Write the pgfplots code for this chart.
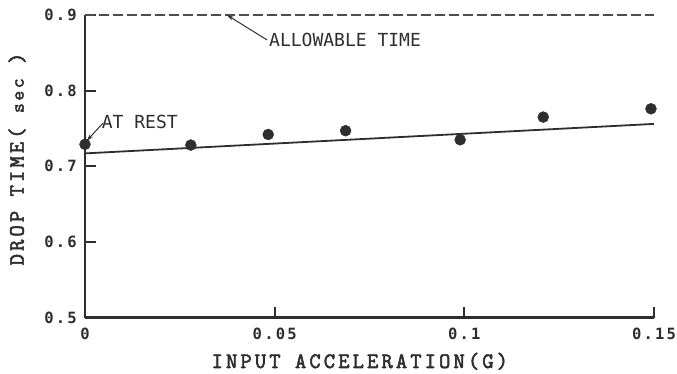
\documentclass[border=0pt]{standalone}
\usepackage{fontspec}
\usepackage{pgfplots}
\pgfplotsset{compat=1.18}
\usetikzlibrary{arrows.meta}
\newfontfamily\tickfont[LetterSpace=14]{DejaVu Sans Mono}
\newfontfamily\annfont{DejaVu Sans Mono}
\newfontfamily\labfont[LetterSpace=14, FakeBold=2.5]{Latin Modern Mono}
\definecolor{ink}{HTML}{2E2E2E}
\begin{document}
\begin{tikzpicture}
\useasboundingbox (0,0) rectangle (677pt,373pt);
\begin{axis}[
  at={(85pt,55.5pt)}, anchor=south west,
  width=569pt, height=302.5pt, scale only axis,
  xmin=0, xmax=0.15, ymin=0.5, ymax=0.9,
  axis x line=bottom, axis y line=left,
  axis line style={-, line width=2.4pt, ink},
  xtick={0,0.05,0.1,0.15}, xticklabels={0,0.05,0.1,0.15},
  ytick={0.5,0.6,0.7,0.8,0.9}, yticklabels={0.5,0.6,0.7,0.8,0.9},
  tick align=inside, major tick length=11pt,
  tick style={line width=1.8pt, ink},
  xticklabel style={font=\tickfont\bfseries\fontsize{15.5}{15.5}\selectfont, text=ink, inner sep=0pt, anchor=north, yshift=-10pt},
  yticklabel style={font=\tickfont\bfseries\fontsize{15.5}{15.5}\selectfont, text=ink, inner sep=0pt, anchor=east, xshift=-8pt},
  xlabel={INPUT ACCELERATION(G)},
  xlabel style={font=\labfont\fontsize{22}{22}\selectfont, text=ink, inner sep=0pt, at={(axis description cs:0.483,-0.1669)}, anchor=base},
  ylabel={DROP TIME( {\fontsize{19}{19}\selectfont sec} )},
  ylabel style={font=\labfont\fontsize{22}{22}\selectfont, text=ink, inner sep=0pt, at={(axis description cs:-0.1195,0.524)}, anchor=center},
  clip=false,
]
\addplot[ink!85, dash pattern=on 10pt off 4pt, line width=1.8pt] coordinates {(0,0.9) (0.15,0.9)};
\addplot[ink, line width=1.8pt] coordinates {(0,0.717) (0.15,0.756)};
\addplot[only marks, mark=*, mark size=5.5pt, mark options={fill=ink, draw=ink}] coordinates {
(0,0.729) (0.0279,0.728) (0.0483,0.742) (0.0687,0.747) (0.0989,0.735) (0.1208,0.765) (0.1492,0.776)};
\node[anchor=base west, inner sep=0pt, font=\annfont\fontsize{18}{18}\selectfont, text=ink] at (axis cs:0.0485,0.858) {ALLOWABLE TIME};
\draw[-{Stealth[length=7pt,width=4pt]}, line width=1pt, ink] (axis cs:0.048,0.867) -- (axis cs:0.0374,0.9);
\node[anchor=base west, inner sep=0pt, font=\annfont\fontsize{18}{18}\selectfont, text=ink] at (axis cs:0.0044,0.7502) {AT REST};
\draw[-{Stealth[length=7pt,width=4pt]}, line width=1pt, ink] (axis cs:0.0047,0.7568) -- (axis cs:0.0004,0.7334);
\end{axis}
\end{tikzpicture}
\end{document}
